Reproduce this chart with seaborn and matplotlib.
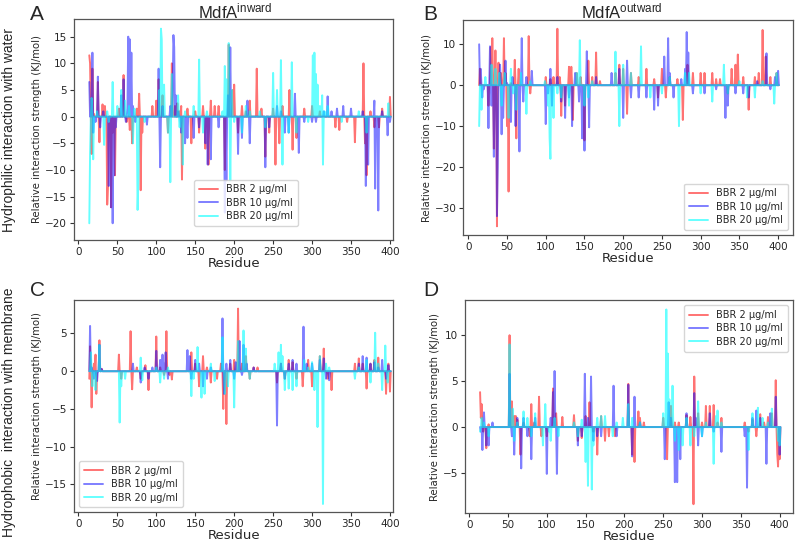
import numpy as np
import pandas as pd
import seaborn as sns
import matplotlib.pyplot as plt

# residue range of MdfA in the simulations
residues = np.arange(14, 402)

# (residue, relative interaction strength KJ/mol); all other residues are 0
# --- A: hydrophilic, inward
a_red = [(14, 11.5), (15, 10), (17, -7), (18, 9), (20, 0.5), (25, 6.5), (27, -4.8), (31, 2.3), (34, 2),
         (37, -16.5), (38, -13), (42, -17), (44, -3), (47, -11), (52, 1.5), (58, 7.8), (62, -1), (66, -2.5),
         (69, -5), (75, 1.5), (78, 4.3), (80, -13.8), (82, -3), (95, 2), (100, 3), (103, 7), (108, 4),
         (115, -3), (120, 10), (124, 2), (127, 2.5), (130, 1), (132, 2), (133, -11.8), (140, 1.5), (145, -5),
         (150, 1), (155, -3), (160, 2), (163, -6), (167, -9), (170, 3), (175, 2), (180, 2), (188, -10),
         (193, 13.5), (198, 5), (200, 6), (205, -3), (210, 2), (215, 1), (220, 3), (229, 9), (235, 1.5),
         (240, -7.5), (245, -3), (250, 1.5), (253, -9), (258, -5), (262, 2), (271, 5), (275, -6.2), (280, -4),
         (290, 1.5), (300, 2), (310, 1), (330, -2), (335, -2.5), (345, -1), (355, -4.8), (366, 10), (368, -5),
         (370, -11), (375, 1), (380, -2), (386, -2), (390, 1.5), (400, 3.7)]
a_blue = [(14, 6.5), (16, 3), (18, 12), (19, -3), (22, -1), (25, 7.5), (28, -2), (32, 1), (39, -13),
          (42, -17), (44, -20), (46, -11), (48, -2), (55, 4), (58, 7), (61, -1), (63, 1.5), (64, 15),
          (66, 14.5), (68, 12), (70, 2), (73, -1), (88, -1.5), (103, 9), (105, -9.5), (108, 2), (118, 2),
          (121, 4), (122, 15.3), (123, 13), (125, 4), (128, 1), (132, -3), (137, -5), (140, -4), (148, -4),
          (155, -2), (163, -5), (166, -9), (170, -8), (180, -2), (188, -18), (190, -12), (192, 4), (195, 13),
          (205, -7), (210, -4), (217, 3), (220, -5), (240, -9.5), (245, -2), (255, 2), (260, 1), (265, -3),
          (270, -3), (278, 4.3), (283, -6.8), (290, -1), (300, -1), (305, -1), (315, 1), (320, 3.8), (325, 1),
          (332, 1.5), (340, 2), (350, 1.5), (365, 1), (369, -13), (372, -9), (380, 3), (381, -13.5),
          (385, -17.6), (390, 1), (397, -3.5), (400, -1)]
a_cyan = [(14, -20), (15, -7), (17, 3.5), (19, -8), (24, 1), (33, -5.3), (37, 1), (39, -1), (44, 6.5),
          (50, 2), (55, 5), (60, 3), (65, 2), (70, -5), (72, 1.5), (76, -17.5), (77, -12), (85, -1), (104, 5),
          (106, 16.5), (107, 14.5), (110, 6), (115, -3), (118, -12.3), (120, 8), (128, 4), (130, -2), (134, -9),
          (137, 1), (148, 2), (155, 10.7), (160, -3), (165, 1), (185, 1), (188, 9.5), (190, 7), (193, 13.8),
          (195, -12), (197, 5), (200, -1), (210, -3), (215, 2), (220, 1), (233, 1), (240, -2), (250, 8.2),
          (255, 5), (260, 10.6), (262, -9), (270, -3), (274, 10.2), (280, -3), (295, -1), (301, 11.5),
          (303, 12), (305, 8), (307, 6), (310, 2), (313, 4), (314, -9), (316, 1), (320, 2), (338, -1), (360, 1),
          (370, -3), (398, 2.5)]

# --- B: hydrophilic, outward
b_red = [(13, -1.5), (15, 4), (26, -5), (29, 9.3), (31, 11.5), (33, -15.5), (35, 8.5), (37, -34.5), (39, 5.5),
         (42, 3), (46, 11.5), (48, 3), (50, -10), (52, -26), (55, 0.5), (60, 6.2), (62, -13), (65, 4), (78, 12),
         (80, -2), (100, 2), (106, 1.5), (110, 2), (115, 13.8), (118, 2), (120, -7.5), (125, -5), (130, 4.5),
         (133, 4.5), (135, -8.5), (140, 3), (145, 2), (150, -13.5), (155, 6), (160, 2), (165, 8), (170, 1),
         (190, 3), (195, 5), (200, 4), (205, -7), (210, 3), (220, 2), (230, 4), (240, 1.5), (245, -3), (250, 4),
         (255, -3), (260, 2), (270, 1.5), (277, -8.5), (283, 5), (290, 3), (300, 3), (305, 3), (315, 3),
         (320, 1.5), (325, 1.5), (335, -2), (340, 4), (345, 5), (348, 7.5), (355, 2), (362, -6), (370, 2),
         (375, 3), (380, 13.5), (384, 7), (390, 2), (398, 3)]
b_blue = [(13, 6), (14, 10), (16, 4), (18, -3), (20, -1), (26, -10.5), (28, 9.5), (30, -5), (33, -17.5),
          (35, -3), (37, -32), (38, -20), (41, 5), (43, -12), (45, -8), (48, 6), (50, 0.5), (55, -9), (57, 2),
          (61, -10), (66, -16.2), (69, 11.5), (71, -4), (75, 2), (82, 3.5), (100, -9.5), (103, -2), (106, 4),
          (108, -5), (115, 2), (120, -4), (125, -8), (130, -3), (134, -10), (138, 3), (143, -4), (147, -13),
          (150, -16), (153, 8.3), (156, -10.3), (165, 2), (185, 3), (195, 4), (200, -8), (205, 6), (210, -3),
          (220, -3), (230, -3), (240, -6), (245, -5), (253, 7), (258, 11.5), (260, 3), (265, -3), (275, 1.5),
          (280, 4), (282, 13), (284, 8), (290, -2), (305, -2), (320, -1), (332, -8), (335, -5), (345, -2),
          (355, -2), (362, -3), (373, 1), (385, 7.8), (390, -1), (396, 2), (400, 3.5)]
b_cyan = [(13, -30.5), (14, -10), (17, -6), (22, 2), (30, 5), (35, 4), (40, 3), (43, -5), (47, 3), (52, -8),
          (55, 4), (58, -2), (62, -6), (68, 3), (75, -7), (80, 1), (99, 1), (103, -5), (105, -13), (106, -18),
          (110, -8), (115, -2), (120, -3), (130, -5), (140, 3), (144, 11), (150, -5), (155, -3), (160, 1),
          (190, 8.2), (195, -10), (200, 5), (210, 3), (223, 9.5), (235, -3), (250, -2), (260, 2), (272, -10),
          (280, 3), (285, 3), (300, -2), (315, -4), (330, 5), (335, -2), (350, 1), (360, -3), (370, -3),
          (380, 1), (395, -4.5), (398, 3)]

# --- C: hydrophobic, inward
c_red = [(14, -1), (15, 3.3), (17, -4.8), (20, 1), (22, 2.2), (23, -3), (27, 4.1), (30, 0.3), (52, 2.2),
         (55, -1), (67, 5.3), (69, -2.4), (75, 0.5), (80, -1), (86, 0.8), (90, -2.5), (100, 4.6), (105, 0.5),
         (110, -0.5), (113, 5.3), (117, -0.5), (120, -1.1), (145, 2.5), (150, 1), (155, -2), (160, 2),
         (165, 0.5), (170, -1.5), (178, -1), (183, 1), (186, -5), (190, -7), (195, 1), (200, 1.5), (205, 8.3),
         (210, 1), (215, 2), (220, -1), (225, 0.5), (230, 0.5), (255, -1.5), (260, 1), (265, -1), (270, 1.5),
         (275, 1.2), (280, -1), (288, -2), (295, 1.5), (300, -2), (310, 2), (315, 3), (320, -1), (325, -2.5),
         (355, 1), (360, 1.7), (365, 1), (370, -2.3), (375, 1), (380, 1.5), (385, 1.8), (395, -3), (398, 1),
         (400, -2.7)]
c_blue = [(15, 6), (17, 0.5), (20, -1), (24, -1.3), (27, 3.5), (30, 0.3), (70, 1), (80, -1.5), (85, 0.5),
          (90, -1), (95, 0.5), (100, 2.7), (105, 1.5), (108, 2.2), (110, 1), (112, 2.5), (115, -1), (140, 2.8),
          (143, 2), (145, -1), (150, 1.5), (155, 1), (160, -2), (165, -1), (170, 0.5), (185, 7), (187, -3),
          (190, 1), (195, 1.5), (200, -1), (202, 1.2), (207, 4), (210, -0.5), (212, 3.5), (216, 1), (225, 0.5),
          (255, -7.2), (260, 1), (265, -1), (270, 1), (275, 1.5), (280, 1), (289, 5.9), (293, 1), (300, 1),
          (310, 1.5), (315, 1.7), (318, -1), (322, -1.2), (360, 1), (365, 2), (370, 1.8), (375, 1), (380, 1.2),
          (385, 0.5), (390, 1.5), (395, -1), (398, 0.8)]
c_cyan = [(13, -1.8), (16, 2.5), (18, -2), (22, -2.5), (27, 3.5), (53, -6.8), (55, -2), (60, -1), (80, 1.8),
          (82, -1.2), (100, 0.5), (105, -1.5), (110, -1), (115, 0.5), (145, -3.3), (148, -1), (153, 3.2),
          (158, -3.5), (162, -3), (170, 1), (175, -1.3), (185, 4.5), (188, -3), (192, -2), (200, -4.8),
          (205, 4), (212, 5.4), (215, 3), (220, -1), (252, 1), (257, 2.5), (260, 3.5), (262, 2), (265, -2.5),
          (270, -2.3), (275, -2.5), (280, -2), (290, 1.5), (295, 0.5), (300, 1.2), (303, -2.5), (307, -7.4),
          (310, 2), (314, -17.6), (318, 1), (322, 0.5), (355, -1), (360, 0.5), (370, 1.5), (375, -1.5),
          (381, 5.1), (385, 1), (390, -2.5), (394, 3.4), (397, -1.5)]

# --- D: hydrophobic, outward
d_red = [(14, 3.8), (15, 1), (16, 2.5), (18, -0.5), (22, -2.3), (25, 0.3), (52, 10), (55, 2.8), (57, 0.5),
         (58, 1.2), (60, 1.2), (62, 0.8), (66, -3), (70, 0.5), (78, -1), (80, 2.5), (84, 0.5), (90, 3.3),
         (93, -1), (100, -1), (108, 4.2), (112, 1.5), (120, 1.1), (135, 1.3), (140, -1.5), (145, -1.2),
         (150, 1.2), (155, 2.7), (160, -0.5), (165, -3), (170, 1.2), (175, -1.5), (180, -1), (188, -1),
         (205, 4.7), (210, -3), (213, -3.8), (218, 1.7), (220, 1), (225, 0.5), (250, 1), (255, -3.5),
         (260, 2.3), (265, 0.5), (270, 0.5), (280, 1.3), (285, 1.1), (289, -8.4), (290, 5.5), (295, 1.5),
         (300, 0.5), (305, 2.3), (310, 2.3), (315, 2.4), (320, 0.5), (325, 1), (355, 0.5), (360, -0.5),
         (365, 0.8), (370, -1), (375, 1.4), (380, 0.5), (385, 1.1), (390, 1.5), (395, 5.1), (397, -3),
         (398, -4.3), (400, -3.5)]
d_blue = [(15, -0.5), (17, -2.5), (19, 1.6), (22, -2), (25, -2), (30, 0.5), (52, 5.8), (55, -1), (58, -3),
          (62, 1), (67, -4.5), (70, 1), (75, -1), (80, -3.5), (85, 1), (100, -5.1), (105, 1), (108, 3.8),
          (110, 6.1), (113, -5.1), (140, -2), (145, -1), (149, 5.8), (153, 1), (157, 5.5), (160, -1.5),
          (165, -1), (170, -1), (186, 4.5), (190, -1), (205, 4.6), (210, -3.2), (213, 3.3), (220, 0.5),
          (252, -3.5), (257, 2.7), (260, 1), (265, -6), (268, -6), (272, -3.5), (280, 1.5), (290, 3.7),
          (292, 1), (295, -2), (300, -1), (310, 1.5), (315, -0.5), (325, -2.7), (355, -1), (358, -6.6),
          (365, 1), (370, 1.8), (375, 1), (383, -4), (388, 1.5), (395, 3.3), (400, -3)]
d_cyan = [(14, -0.5), (16, 1), (19, 0.5), (25, -1), (52, 9), (56, 2), (58, -1.5), (62, 0.5), (70, 1.7),
          (75, 1), (80, -1), (85, 1.5), (95, -2), (98, 2.5), (103, -0.5), (105, -1.5), (110, 1), (115, -1),
          (135, 0.5), (140, -1), (145, 0.8), (150, -3.8), (153, -6.4), (158, -6.8), (160, -2), (165, 1),
          (170, 1.2), (175, 1.2), (185, -1), (190, 0.5), (198, 1), (205, 2.5), (210, 1), (220, 0.5), (250, 1.5),
          (254, 12.8), (256, 8), (258, 3), (262, 4.5), (265, -1.5), (270, -2.5), (275, -2), (280, 1),
          (285, -2), (290, -1), (295, 2.8), (300, -1), (305, 0.5), (315, -4), (318, 1.2), (320, 1.8),
          (325, 0.5), (360, -2.5), (365, 1.5), (372, 2.1), (378, 1), (385, 0.5), (390, 2), (398, -1.5),
          (400, -2)]

labels = ["BBR 2 μg/ml", "BBR 10 μg/ml", "BBR 20 μg/ml"]
colors = ["red", "blue", "cyan"]
alphas = [0.55, 0.5, 0.6]


def to_series(points):
    vals = np.zeros(len(residues))
    for r, v in points:
        vals[residues == r] = v
    return vals


sns.set_style("ticks")
plt.rcParams["axes.edgecolor"] = "#555555"
plt.rcParams["mathtext.default"] = "regular"

fig = plt.figure(figsize=(7.96, 5.45), dpi=100)

panels = [
    ("A", [a_red, a_blue, a_cyan], [0.093, 0.560, 0.401, 0.405], (-5.6, 404.2), (-23.1, 18.3),
     dict(loc="lower left", bbox_to_anchor=(0.36, 0.04))),
    ("B", [b_red, b_blue, b_cyan], [0.582, 0.569, 0.414, 0.394], (-6.5, 419), (-36.6, 15.9),
     dict(loc="lower right")),
    ("C", [c_red, c_blue, c_cyan], [0.093, 0.060, 0.401, 0.389], (-5.6, 404.2), (-18.7, 9.4),
     dict(loc="lower left")),
    ("D", [d_red, d_blue, d_cyan], [0.584, 0.058, 0.412, 0.391], (-5.6, 417), (-9.4, 13.8),
     dict(loc="upper right")),
]

for letter, series, rect, xlim, ylim, leg in panels:
    ax = fig.add_axes(rect)
    for pts, lab, col, al in zip(series, labels, colors, alphas):
        df = pd.DataFrame({"residue": residues, "value": to_series(pts)})
        sns.lineplot(data=df, x="residue", y="value", color=col, alpha=al, lw=1.4, label=lab, ax=ax)
    ax.set_xlim(*xlim)
    ax.set_ylim(*ylim)
    ax.set_xticks([0, 50, 100, 150, 200, 250, 300, 350, 400])
    ax.tick_params(labelsize=7.5, length=3, width=0.8, color="#333333", pad=2)
    ax.set_xlabel("Residue", fontsize=9.5, labelpad=0)
    ax.set_ylabel("Relative interaction strength (KJ/mol)", fontsize=7.3, labelpad=2)
    ax.legend(fontsize=7, frameon=True, handlelength=2.0, borderpad=0.5, labelspacing=0.35, **leg)
    for s in ax.spines.values():
        s.set_linewidth(0.9)

# panel letters
fig.text(30 / 796, 1 - 14 / 545, "A", fontsize=15, family="Liberation Sans", va="center", ha="left")
fig.text(423 / 796, 1 - 14 / 545, "B", fontsize=15, family="Liberation Sans", va="center", ha="left")
fig.text(30 / 796, 1 - 291 / 545, "C", fontsize=15, family="Liberation Sans", va="center", ha="left")
fig.text(423 / 796, 1 - 291 / 545, "D", fontsize=15, family="Liberation Sans", va="center", ha="left")

# column titles
fig.text(235 / 796, 1 - 11 / 545, "MdfA$^{inward}$", fontsize=12, family="Liberation Sans",
         ha="center", va="center")
fig.text(622 / 796, 1 - 11 / 545, "MdfA$^{outward}$", fontsize=12, family="Liberation Sans",
         ha="center", va="center")

# row labels
fig.text(9 / 796, 1 - 130 / 545, "Hydrophilic interaction with water", fontsize=10,
         family="Liberation Sans", rotation=90, ha="center", va="center")
fig.text(9 / 796, 1 - 412 / 545, "Hydrophobic  interaction with membrane", fontsize=10,
         family="Liberation Sans", rotation=90, ha="center", va="center")

fig.savefig("out.png", dpi=100)
